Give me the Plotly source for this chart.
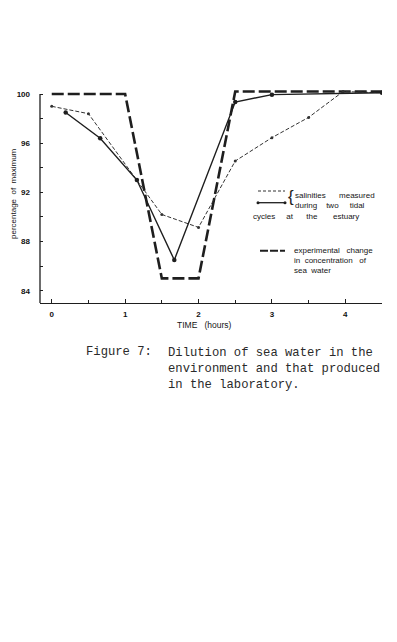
import plotly.graph_objects as go

# ---- data ----
exp_hours = [0, 1, 1.5, 2, 2.5, 4.5]
exp_values = [100, 100, 85, 85, 100.2, 100.2]

cycle1_hours = [0, 0.5, 1.5, 2.0, 2.5, 3.0, 3.5, 3.97, 4.5]
cycle1_values = [99.0, 98.4, 90.2, 89.15, 94.55, 96.45, 98.1, 100.2, 100.1]

cycle2_hours = [0.19, 0.66, 1.16, 1.67, 2.5, 3.0, 4.5]
cycle2_values = [98.5, 96.4, 93.0, 86.5, 99.35, 99.95, 100.1]

y_ticks = [84, 88, 92, 96, 100]
x_ticks = [0, 1, 2, 3, 4]

W, H = 397, 642
ML, MR, MT, MB = 40, 15, 88, 339
PW, PH = W - ML - MR, H - MT - MB
INK = "#1e1e1e"


def px(x):
    return (x - ML) / PW


def py(y):
    return (H - MB - y) / PH


fig = go.Figure()

fig.add_trace(go.Scatter(
    x=exp_hours, y=exp_values, mode="lines",
    line=dict(color=INK, width=2.6, dash="12px,4px"),
    showlegend=False, hoverinfo="skip"))

fig.add_trace(go.Scatter(
    x=cycle1_hours, y=cycle1_values, mode="lines+markers",
    line=dict(color="#333", width=1, dash="4px,2px"),
    marker=dict(size=3, color="#333"),
    showlegend=False, hoverinfo="skip"))

fig.add_trace(go.Scatter(
    x=cycle2_hours, y=cycle2_values, mode="lines+markers",
    line=dict(color=INK, width=1.4),
    marker=dict(size=4.5, color=INK),
    showlegend=False, hoverinfo="skip"))

tickfont = dict(family="Liberation Sans, Arial", size=8, color="#111", weight="bold")

fig.update_xaxes(
    range=[-0.16, 4.5], tickvals=x_ticks, ticktext=[str(t) for t in x_ticks],
    ticks="inside", ticklen=4, tickwidth=1, tickcolor=INK,
    minor=dict(dtick=0.5, tick0=0, ticks="inside", ticklen=3, tickcolor=INK, tickwidth=1),
    showline=True, linecolor=INK, linewidth=1.3, showgrid=False, zeroline=False,
    tickfont=tickfont, ticklabelstandoff=3)

fig.update_yaxes(
    range=[83.0, 100.49], tickvals=y_ticks, ticktext=[str(t) for t in y_ticks],
    ticks="inside", ticklen=3, tickwidth=1, tickcolor=INK,
    minor=dict(dtick=2, tick0=84, ticks="inside", ticklen=3, tickcolor=INK, tickwidth=1),
    showline=False, showgrid=False, zeroline=False,
    tickfont=tickfont, ticklabelstandoff=9)

shapes = [
    # y axis line, from bottom up to the 100 tick
    dict(type="line", xref="paper", yref="y", x0=0, x1=0, y0=83.0, y1=100,
         line=dict(color=INK, width=1.3)),
    # legend samples
    dict(type="line", xref="paper", yref="paper", x0=px(258), x1=px(285), y0=py(191), y1=py(191),
         line=dict(color="#333", width=1, dash="3px,2px")),
    dict(type="line", xref="paper", yref="paper", x0=px(258), x1=px(285), y0=py(202.7), y1=py(202.7),
         line=dict(color=INK, width=1.3)),
    dict(type="line", xref="paper", yref="paper", x0=px(260), x1=px(285), y0=py(250.7), y1=py(250.7),
         line=dict(color=INK, width=2, dash="8px,2px")),
]
for cx in (258, 285):
    shapes.append(dict(type="circle", xref="paper", yref="paper",
                       x0=px(cx - 1.5), x1=px(cx + 1.5), y0=py(202.7 + 1.5), y1=py(202.7 - 1.5),
                       fillcolor=INK, line=dict(width=0)))
fig.update_layout(shapes=shapes)

S = "\u00a0"
lab = dict(family="Liberation Sans, Arial", size=8, color="#151515")
ann = []


def text(x, y, t, font=lab, xanchor="left", yanchor="middle", **kw):
    ann.append(dict(x=px(x), y=py(y), xref="paper", yref="paper", text=t,
                    showarrow=False, xanchor=xanchor, yanchor=yanchor, font=font, **kw))


text(293, 195.7, "salinities" + S * 6 + "measured")
text(293, 205.7, "during" + S * 4 + "two" + S * 5 + "tidal")
text(251, 216.7, "cycles" + S * 5 + "at" + S * 6 + "the" + S * 7 + "estuary")
text(292, 250.7, "experimental" + S * 3 + "change")
text(292, 260.7, "in" + S * 2 + "concentration" + S * 3 + "of")
text(292, 270.5, "sea" + S * 2 + "water")
text(286, 196.5, "{", font=dict(family="Liberation Sans, Arial", size=17, color="#222"))

# axis titles
text(13, 194, "percentage" + S * 2 + "of" + S * 2 + "maximum", xanchor="center", textangle=-90)
text(175, 325, "TIME" + S * 3 + "(hours)", font=dict(family="Liberation Sans, Arial", size=8.5, color="#151515"))

# caption
cap = dict(family="Liberation Mono, Courier New, monospace", size=12.2, color="#2a2a2a")
text(84, 351.7, "Figure 7:", font=cap)
ann.append(dict(x=px(166), y=py(344), xref="paper", yref="paper",
                text="Dilution of sea water in the<br>environment and that produced<br>in the laboratory.",
                showarrow=False, xanchor="left", yanchor="top", align="left", font=cap))

fig.update_layout(
    annotations=ann,
    width=W, height=H,
    margin=dict(l=ML, r=MR, t=MT, b=MB),
    paper_bgcolor="white", plot_bgcolor="white",
    showlegend=False)

fig.write_html("out.html", include_plotlyjs=True, config=dict(displayModeBar=False))
